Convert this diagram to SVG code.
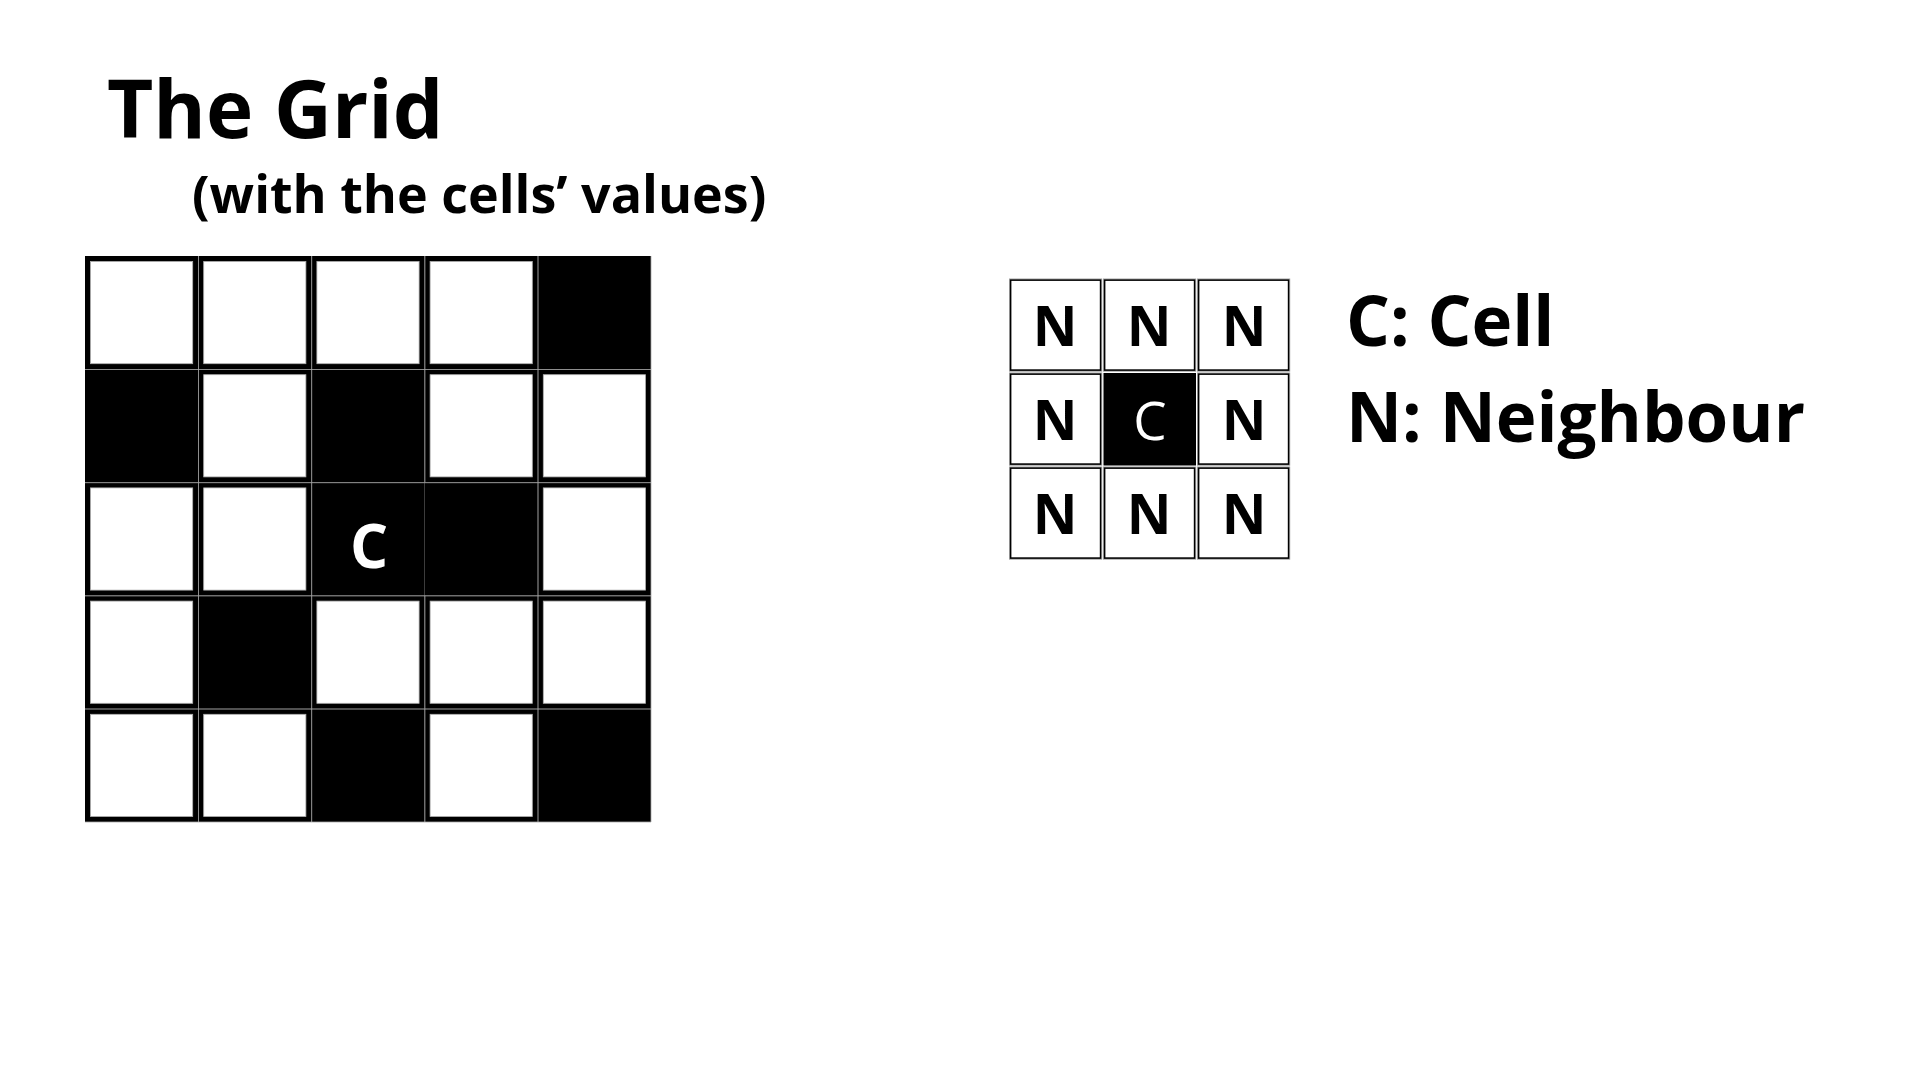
<svg xmlns="http://www.w3.org/2000/svg" width="1920" height="1080" viewBox="0 0 1920 1080">
<style>
.t{font-family:"Open Sans","Liberation Sans",sans-serif;font-weight:700;fill:#000}
.blk{fill:#000}
.wht{fill:#fff;stroke:#b0b0b0;stroke-width:0.8}
.gl{stroke:#a8a8a8;stroke-width:0.8;fill:none}
.nc{fill:#fff;stroke:#000;stroke-width:1.6}
.nco{fill:none;stroke:#a0a0a0;stroke-width:0.8}
.nl{font-family:"Open Sans","Liberation Sans",sans-serif;font-weight:700;font-size:55px;text-anchor:middle;fill:#000}
</style>
<defs>
<g id="whiteCell"><rect class="blk" x="0" y="0" width="113.2" height="113.2"/><rect class="wht" x="5.5" y="5.5" width="102.2" height="102.2"/></g>
<g id="blackCell"><rect class="blk" x="0" y="0" width="113.2" height="113.2"/></g>
<g id="nCell"><rect class="nco" x="0.4" y="0.4" width="92.4" height="92.4"/><rect class="nc" x="1.6" y="1.6" width="90" height="90"/></g>
</defs>
<rect width="1920" height="1080" fill="#fff"/>
<g id="title">
<text class="t" x="107" y="138" font-size="80">The Grid</text>
<text class="t" x="192" y="213" font-size="52">(with the cells’ values)</text>
</g>
<g id="grid">
<g id="r0c0"><use href="#whiteCell" x="85" y="256"/></g>
<g id="r0c1"><use href="#whiteCell" x="198.2" y="256"/></g>
<g id="r0c2"><use href="#whiteCell" x="311.4" y="256"/></g>
<g id="r0c3"><use href="#whiteCell" x="424.6" y="256"/></g>
<g id="r0c4"><use href="#blackCell" x="537.8" y="256"/></g>
<g id="r1c0"><use href="#blackCell" x="85" y="369.2"/></g>
<g id="r1c1"><use href="#whiteCell" x="198.2" y="369.2"/></g>
<g id="r1c2"><use href="#blackCell" x="311.4" y="369.2"/></g>
<g id="r1c3"><use href="#whiteCell" x="424.6" y="369.2"/></g>
<g id="r1c4"><use href="#whiteCell" x="537.8" y="369.2"/></g>
<g id="r2c0"><use href="#whiteCell" x="85" y="482.4"/></g>
<g id="r2c1"><use href="#whiteCell" x="198.2" y="482.4"/></g>
<g id="r2c2"><use href="#blackCell" x="311.4" y="482.4"/><text x="369" y="568" font-family="'Open Sans','Liberation Sans',sans-serif" font-weight="700" font-size="60" text-anchor="middle" fill="#fff">C</text></g>
<g id="r2c3"><use href="#blackCell" x="424.6" y="482.4"/></g>
<g id="r2c4"><use href="#whiteCell" x="537.8" y="482.4"/></g>
<g id="r3c0"><use href="#whiteCell" x="85" y="595.6"/></g>
<g id="r3c1"><use href="#blackCell" x="198.2" y="595.6"/></g>
<g id="r3c2"><use href="#whiteCell" x="311.4" y="595.6"/></g>
<g id="r3c3"><use href="#whiteCell" x="424.6" y="595.6"/></g>
<g id="r3c4"><use href="#whiteCell" x="537.8" y="595.6"/></g>
<g id="r4c0"><use href="#whiteCell" x="85" y="708.8"/></g>
<g id="r4c1"><use href="#whiteCell" x="198.2" y="708.8"/></g>
<g id="r4c2"><use href="#blackCell" x="311.4" y="708.8"/></g>
<g id="r4c3"><use href="#whiteCell" x="424.6" y="708.8"/></g>
<g id="r4c4"><use href="#blackCell" x="537.8" y="708.8"/></g>
</g>
<g id="gridlines">
<path class="gl" d="M198.5 256V822M311.7 256V822M424.9 256V482.4M424.9 595.6V822M538.1 256V822M651 256V822M85 369.5H651M85 482.7H651M85 595.9H651M85 709.1H651M85 822H651"/>
</g>
<g id="neighbourhood">
<g id="n00"><use href="#nCell" x="1009" y="278.5"/><text class="nl" x="1055" y="346">N</text></g>
<g id="n01"><use href="#nCell" x="1103" y="278.5"/><text class="nl" x="1149" y="346">N</text></g>
<g id="n02"><use href="#nCell" x="1197" y="278.5"/><text class="nl" x="1244" y="346">N</text></g>
<g id="n10"><use href="#nCell" x="1009" y="372.5"/><text class="nl" x="1055" y="440">N</text></g>
<g id="n11"><rect x="1103.5" y="373" width="92.5" height="92.5" fill="#000"/><text x="1150" y="440" font-family="'Open Sans','Liberation Sans',sans-serif" font-weight="400" font-size="53" text-anchor="middle" fill="#fff">C</text></g>
<g id="n12"><use href="#nCell" x="1197" y="372.5"/><text class="nl" x="1244" y="440">N</text></g>
<g id="n20"><use href="#nCell" x="1009" y="466.5"/><text class="nl" x="1055" y="534">N</text></g>
<g id="n21"><use href="#nCell" x="1103" y="466.5"/><text class="nl" x="1149" y="534">N</text></g>
<g id="n22"><use href="#nCell" x="1197" y="466.5"/><text class="nl" x="1244" y="534">N</text></g>
</g>
<g id="legend">
<text class="t" x="1346" y="346" font-size="69">C: Cell</text>
<text class="t" x="1346" y="442" font-size="69">N: Neighbour</text>
</g>
</svg>
